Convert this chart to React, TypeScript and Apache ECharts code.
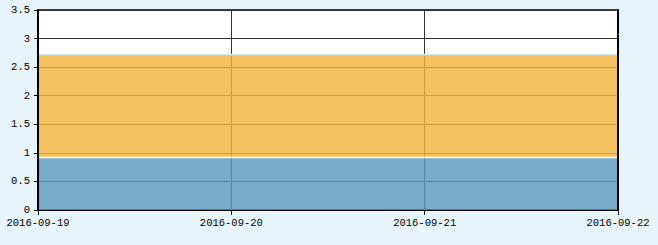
import React, { useEffect, useRef } from "react";
import * as echarts from "echarts";

const categories = ["2016-09-19", "2016-09-20", "2016-09-21", "2016-09-22"];
const seriesBlue = [0.92, 0.92, 0.92, 0.92];
const seriesOrange = [1.8, 1.8, 1.8, 1.8];

export default function App() {
  const ref = useRef<HTMLDivElement>(null);
  useEffect(() => {
    if (!ref.current) return;
    const chart = echarts.init(ref.current, undefined, { renderer: "svg" });
    const font = "'Liberation Mono', 'DejaVu Sans Mono', monospace";
    chart.setOption({
      animation: false,
      backgroundColor: "#e8f4fc",
      grid: { left: 38, right: 40, top: 10, bottom: 35, containLabel: false, show: true, backgroundColor: "#ffffff", borderWidth: 1.5, borderColor: "#000", z: 0 },
      xAxis: {
        type: "category",
        boundaryGap: false,
        data: categories,
        axisLine: { lineStyle: { color: "#000", width: 2 } },
        axisTick: { show: true, length: 5, lineStyle: { color: "#000" } },
        axisLabel: { color: "#000", fontFamily: font, fontSize: 10.5, margin: 7, showMinLabel: true, showMaxLabel: true, interval: 0 },
        splitLine: { show: true, lineStyle: { color: "#333", width: 1 } },
      },
      yAxis: [
        {
          type: "value",
          min: 0,
          max: 3.5,
          interval: 0.5,
          axisLine: { show: false },
          axisTick: { show: false },
          axisLabel: { color: "#000", fontFamily: font, fontSize: 10.5, margin: 8 },
          splitLine: { show: true, lineStyle: { color: "#333", width: 1 } },
        },
        {
          type: "value",
          position: "left",
          offset: 0,
          min: 0,
          max: 3.5,
          interval: 0.5,
          axisLine: { show: true, lineStyle: { color: "#000", width: 2 } },
          axisTick: { show: true, length: 4, lineStyle: { color: "#000" } },
          axisLabel: { show: false },
          splitLine: { show: false },
          z: 5,
        },
        {
          type: "value",
          position: "right",
          min: 0,
          max: 3.5,
          interval: 0.5,
          axisLine: { show: true, lineStyle: { color: "#000", width: 2 } },
          axisTick: { show: false },
          axisLabel: { show: false },
          splitLine: { show: false },
          z: 5,
        },
      ],
      series: [
        {
          type: "line",
          stack: "total",
          data: seriesBlue,
          symbol: "none",
          lineStyle: { color: "#ffffff", width: 1.5 },
          areaStyle: { color: "rgb(90,153,190)", opacity: 0.82 },
          z: 3,
        },
        {
          type: "line",
          stack: "total",
          data: seriesOrange,
          symbol: "none",
          lineStyle: { color: "#d4e8f0", width: 1.5 },
          areaStyle: { color: "rgb(242,181,62)", opacity: 0.82 },
          z: 3,
        },
      ],
    });
    return () => chart.dispose();
  }, []);
  return <div ref={ref} style={{ width: 658, height: 245, position: "absolute", left: 0, top: 0 }} />;
}
